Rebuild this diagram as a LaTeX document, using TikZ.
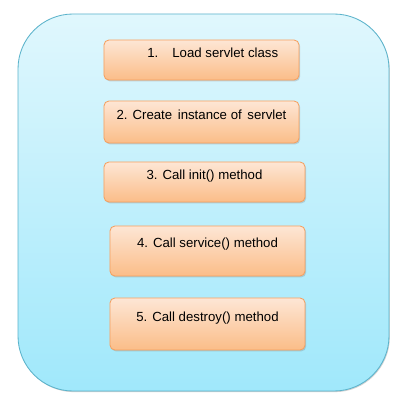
\documentclass[tikz,border=0pt]{standalone}
\usepackage{fontspec}
\setmainfont{Liberation Sans}
\usetikzlibrary{shadows}

\definecolor{frameline}{HTML}{5BB3CB}
\definecolor{frametop}{HTML}{E0F7FD}
\definecolor{framebot}{HTML}{A0E8FB}
\definecolor{stageline}{HTML}{F5A060}
\definecolor{stagetop}{HTML}{FDE6D5}
\definecolor{stagebot}{HTML}{FBBD88}

\tikzstyle{frame}=[draw=frameline, top color=frametop, bottom color=framebot, rounded corners=1.375cm, line width=0.6pt, drop shadow={shadow xshift=0.6pt, shadow yshift=-0.8pt, opacity=0.35}]
\tikzstyle{stage}=[draw=stageline, top color=stagetop, bottom color=stagebot, rounded corners=3.5pt, line width=0.6pt, minimum width=4.875cm, minimum height=1cm, text height=6.5pt, text depth=10.5pt, inner sep=0pt, font=\fontsize{9.4}{11}\selectfont, drop shadow={shadow xshift=0.8pt, shadow yshift=-1pt, opacity=0.3}]

\begin{document}
\begin{tikzpicture}[x=0.025cm, y=-0.025cm]

\useasboundingbox[fill=white] (0,0) rectangle (400,400);

\draw[frame] (18,14) rectangle (389,391);

\node[stage] (load) at (201.5,60) {\hspace*{16pt}1.\hspace{10pt}Load servlet class};
\node[stage, minimum height=1.05cm] (create) at (201.5,122) {2. Create\hspace{4pt}instance of\hspace{4pt}servlet};
\node[stage, minimum width=5.025cm] (init) at (204.5,182) {3. Call init() method};
\node[stage, minimum height=1.25cm, text depth=11.5pt] (service) at (207.5,251) {4. Call service() method};
\node[stage, minimum height=1.3cm] (destroy) at (207.5,324) {5. Call destroy() method};

\end{tikzpicture}
\end{document}
